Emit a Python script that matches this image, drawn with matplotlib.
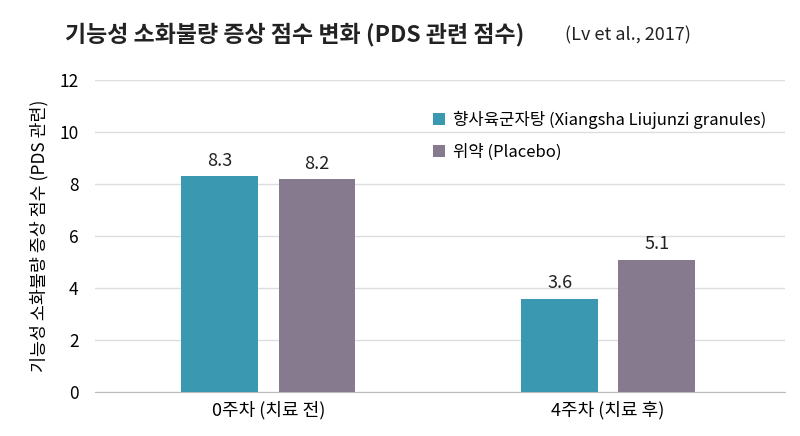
import matplotlib
matplotlib.use("Agg")
import matplotlib.pyplot as plt
import numpy as np

plt.rcParams['font.family'] = ['Noto Sans CJK KR', 'DejaVu Sans']

categories = ["0주차 (치료 전)", "4주차 (치료 후)"]
series_names = ["향사육군자탕 (Xiangsha Liujunzi granules)", "위약 (Placebo)"]
treatment = [8.3, 3.6]
placebo = [8.2, 5.1]
colors = ["#3a98b0", "#857a8e"]

fig = plt.figure(figsize=(8, 4.36), dpi=100)
ax = fig.add_axes([0.119, 0.10, 0.862, 0.716])
x = np.arange(len(categories))
w = 0.226
off = 0.143
for vals, name, c, o in [(treatment, series_names[0], colors[0], -off), (placebo, series_names[1], colors[1], off)]:
    bars = ax.bar(x + o, vals, w, color=c, label=name, zorder=3)
    for b, v in zip(bars, vals):
        ax.text(b.get_x() + b.get_width()/2, v + 0.25, f"{v:.1f}", ha='center', va='bottom', fontsize=13, color='#222')

ax.set_xlim(-0.51, 1.52)
ax.set_ylim(0, 12)
ax.set_yticks(range(0, 13, 2))
ax.set_xticks(x)
ax.set_xticklabels(categories, fontsize=13)
ax.tick_params(axis='y', labelsize=12.5, length=0, pad=12)
ax.tick_params(axis='x', length=0, pad=6)
ax.grid(axis='y', color='#dddddd', linewidth=1, zorder=0)
for s in ['top', 'right', 'left']:
    ax.spines[s].set_visible(False)
ax.spines['bottom'].set_color('#bbbbbb')
ax.set_ylabel("기능성 소화불량 증상 점수 (PDS 관련)", fontsize=12.5, labelpad=8)
leg = ax.legend(loc='upper right', bbox_to_anchor=(0.995, 0.95), frameon=False, fontsize=12,
                handlelength=0.7, handleheight=0.7, handletextpad=0.5, labelspacing=0.9)

fig.text(0.081, 0.92, "기능성 소화불량 증상 점수 변화 (PDS 관련 점수)", ha='left', va='center',
         fontsize=16.5, fontweight='bold', color='#222')
fig.text(0.706, 0.918, "(Lv et al., 2017)", ha='left', va='center', fontsize=13, color='#222')
fig.savefig("out.png", dpi=100)
